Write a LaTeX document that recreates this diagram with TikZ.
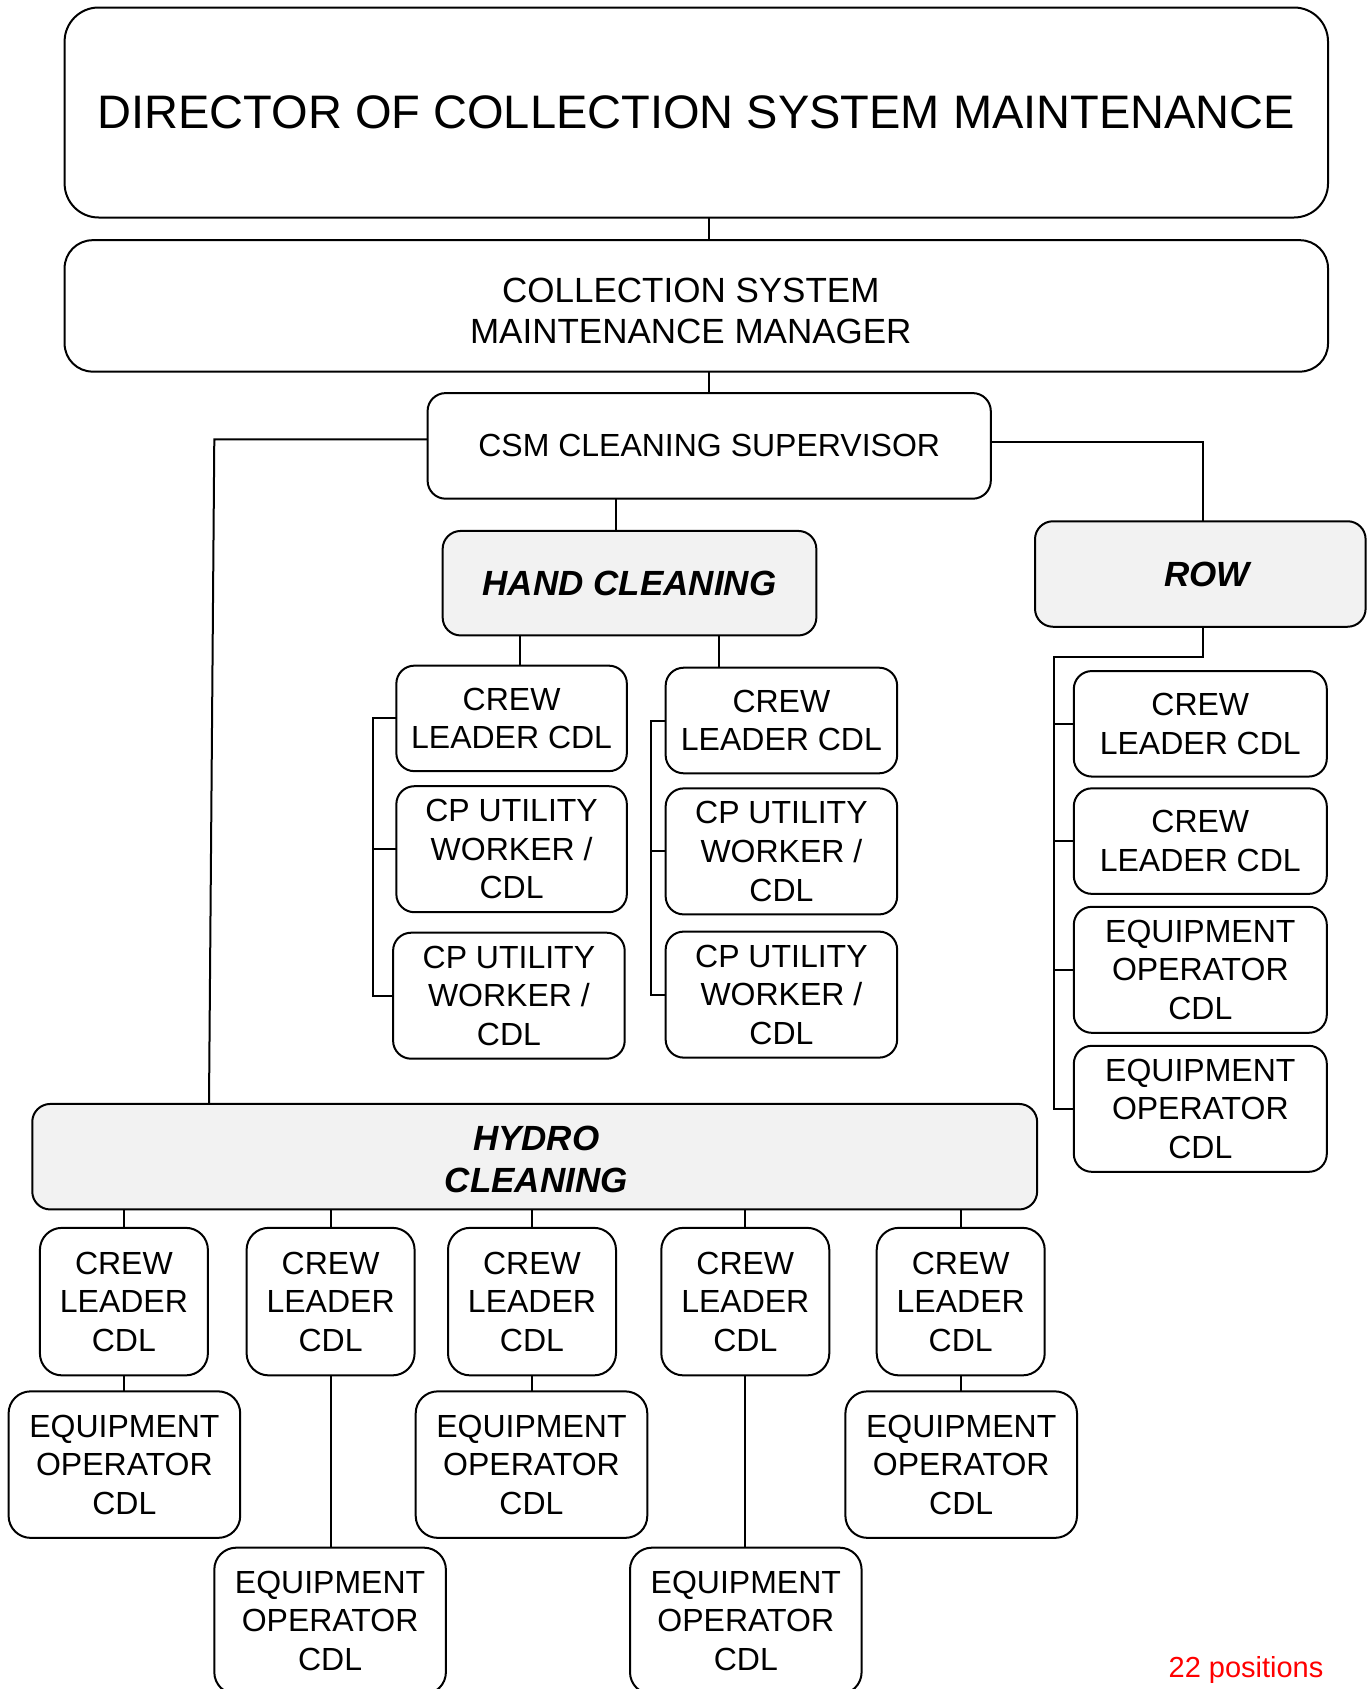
\documentclass[tikz,border=0pt]{standalone}
\usepackage{fontspec}
\setmainfont{Liberation Sans}
\definecolor{groupgray}{HTML}{F2F2F2}
\definecolor{notered}{HTML}{FF0000}
\begin{document}
\begin{tikzpicture}[x=1pt,y=-1pt,
  every node/.style={inner sep=0pt, outer sep=0pt},
  unit/.style={draw=black, line width=2pt, rounded corners=18pt, fill=white,
    align=center, font=\fontsize{32}{38.6}\selectfont},
  group/.style={unit, fill=groupgray, font=\fontsize{35}{42}\selectfont\bfseries\itshape},
  grouptext/.style={align=center, font=\fontsize{35}{42}\selectfont\bfseries\itshape},
  link/.style={draw=black, line width=2pt},
  crew/.style={unit, minimum width=168pt, minimum height=147.5pt, rounded corners=22pt},
  equip/.style={unit, minimum width=231.6pt, minimum height=146.5pt, rounded corners=22pt},
]
\useasboundingbox (0,0) rectangle (1370,1689);

% ---- management chain ----
\node[unit, rounded corners=34pt, minimum width=1263.4pt, minimum height=210pt,
      font=\fontsize{47}{56}\selectfont] (dir) at (696.3,112.5)
      {DIRECTOR OF COLLECTION SYSTEM MAINTENANCE};
\node[unit, rounded corners=28pt, minimum width=1263.4pt, minimum height=131.4pt,
      label={[align=center, font=\fontsize{35}{41}\selectfont, xshift=-5.5pt, yshift=-5.5pt]center:COLLECTION SYSTEM\\MAINTENANCE MANAGER}]
      (mgr) at (696.3,305.9) {};
\node[unit, minimum width=563.2pt, minimum height=105.6pt] (csm) at (709.2,445.9)
      {CSM CLEANING SUPERVISOR};

% ---- section heads ----
\node[group, minimum width=373.7pt, minimum height=104.5pt] (hc) at (629.5,583.2) {HAND CLEANING};
\node[group, minimum width=330.6pt, minimum height=105.5pt,
      label={[grouptext, xshift=6.5pt]center:ROW}] (row) at (1200.3,574) {};
\node[group, minimum width=1004.9pt, minimum height=105.5pt,
      label={[grouptext, xshift=1.5pt, yshift=-3pt]center:HYDRO\\CLEANING}] (hydro) at (534.7,1156.7) {};

% ---- hand cleaning crews ----
\node[unit, minimum width=230.5pt, minimum height=105.5pt] (cl1) at (511.6,718.4) {CREW\\LEADER CDL};
\node[unit, minimum width=230.5pt, minimum height=126pt] (cp1) at (511.6,849.2) {CP UTILITY\\WORKER /\\CDL};
\node[unit, minimum width=231.6pt, minimum height=126pt] (cp2) at (508.9,995.7) {CP UTILITY\\WORKER /\\CDL};
\node[unit, minimum width=231.5pt, minimum height=105.6pt] (cl2) at (781.4,720.5) {CREW\\LEADER CDL};
\node[unit, minimum width=231.5pt, minimum height=126pt] (cp3) at (781.4,851.4) {CP UTILITY\\WORKER /\\CDL};
\node[unit, minimum width=231.5pt, minimum height=126pt] (cp4) at (781.4,994.6) {CP UTILITY\\WORKER /\\CDL};

% ---- ROW crew ----
\node[unit, minimum width=253pt, minimum height=105.5pt] (r1) at (1200.3,723.8) {CREW\\LEADER CDL};
\node[unit, minimum width=253pt, minimum height=105.5pt] (r2) at (1200.3,841.1) {CREW\\LEADER CDL};
\node[unit, minimum width=253pt, minimum height=126pt] (r3) at (1200.3,969.8) {EQUIPMENT\\OPERATOR\\CDL};
\node[unit, minimum width=253pt, minimum height=126pt] (r4) at (1200.3,1108.8) {EQUIPMENT\\OPERATOR\\CDL};

% ---- hydro cleaning crews ----
\node[crew] (h1) at (123.9,1301.6) {CREW\\LEADER\\CDL};
\node[crew] (h2) at (330.6,1301.6) {CREW\\LEADER\\CDL};
\node[crew] (h3) at (532.0,1301.6) {CREW\\LEADER\\CDL};
\node[crew] (h4) at (745.3,1301.6) {CREW\\LEADER\\CDL};
\node[crew] (h5) at (960.7,1301.6) {CREW\\LEADER\\CDL};
\node[equip] (e1) at (124.4,1464.6) {EQUIPMENT\\OPERATOR\\CDL};
\node[equip] (e2) at (330.1,1620.9) {EQUIPMENT\\OPERATOR\\CDL};
\node[equip] (e3) at (531.5,1464.6) {EQUIPMENT\\OPERATOR\\CDL};
\node[equip] (e4) at (745.8,1620.9) {EQUIPMENT\\OPERATOR\\CDL};
\node[equip] (e5) at (961.2,1464.6) {EQUIPMENT\\OPERATOR\\CDL};

% ---- connectors ----
\draw[link] (csm.north |- dir.south) -- (csm.north |- mgr.north);
\draw[link] (csm.north |- mgr.south) -- (csm.north);
\draw[link] ([xshift=-13.5pt]hc.north) -- ([xshift=-13.5pt]hc.north |- csm.south);
\draw[link] ([yshift=4.3pt]csm.east) -| ([xshift=2.7pt]row.north);
\coordinate (hk) at (214.3,439.4);
\draw[link] (csm.west |- hk) -- (hk) -- ([xshift=-325.7pt]hydro.north);

% hand cleaning
\draw[link] ([xshift=8.6pt]cl1.north) -- ([xshift=8.6pt]cl1.north |- hc.south);
\draw[link] ([xshift=-62pt]cl2.north) -- ([xshift=-62pt]cl2.north |- hc.south);
\coordinate (bl) at (372.6,0);
\coordinate (br) at (650.5,0);
\draw[link] (cl1.west) -- (cl1.west -| bl) |- (cp2.west);
\draw[link] (cp1.west) -- (cp1.west -| bl);
\draw[link] (cl2.west) -- (cl2.west -| br) |- (cp4.west);
\draw[link] (cp3.west) -- (cp3.west -| br);

% ROW
\coordinate (rb) at (1054.4,657);
\draw[link] ([xshift=2.7pt]row.south) |- (rb) |- (r4.west);
\draw[link] (r1.west) -- (r1.west -| rb);
\draw[link] (r2.west) -- (r2.west -| rb);
\draw[link] (r3.west) -- (r3.west -| rb);

% hydro cleaning
\foreach \c in {h1,h2,h3,h4,h5}
  \draw[link] (\c.north |- hydro.south) -- (\c.north);
\draw[link] (h1.south) -- (h1.south |- e1.north);
\draw[link] (h2.south) -- (h2.south |- e2.north);
\draw[link] (h3.south) -- (h3.south |- e3.north);
\draw[link] (h4.south) -- (h4.south |- e4.north);
\draw[link] (h5.south) -- (h5.south |- e5.north);

% ---- total ----
\node[text=notered, font=\fontsize{29}{34}\selectfont] (total) at (1246,1670) {22 positions};
\end{tikzpicture}
\end{document}
